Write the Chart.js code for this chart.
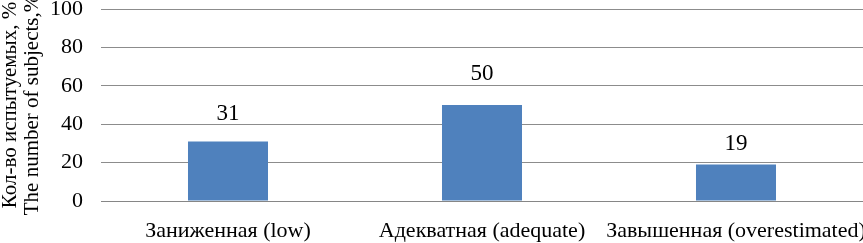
<!DOCTYPE html>
<html><head><meta charset="utf-8">
<script src="https://cdn.jsdelivr.net/npm/chart.js@4/dist/chart.umd.min.js"></script>
<style>html,body{margin:0;padding:0;background:#fff}#w{width:863px;height:243px}</style>
</head><body><div id="w"><canvas id="c"></canvas></div>
<script>
const categories = ["Заниженная (low)", "Адекватная (adequate)", "Завышенная (overestimated)"];
const values = [31, 50, 19];
const yTitle = ["Кол-во испытуемых, %", "The number of subjects,%"];
const yMin = 0, yMax = 100, yStep = 20;

const FONT = "'Liberation Serif','Times New Roman',serif";
const labelPlugin = {
  id: 'vals',
  afterDatasetsDraw(chart, args, opts) {
    const ctx = chart.ctx;
    const meta = chart.getDatasetMeta(0);
    const gaps = opts.gaps || [];
    ctx.save();
    ctx.font = "23px " + FONT;
    ctx.fillStyle = "#000";
    ctx.textAlign = "center";
    ctx.textBaseline = "alphabetic";
    meta.data.forEach((el, i) => {
      ctx.fillText(String(values[i]), el.x, el.y - (gaps[i] ?? 20));
    });
    ctx.restore();
  }
};

new Chart(document.getElementById('c'), {
  type: 'bar',
  data: { labels: categories, datasets: [{ data: values, backgroundColor: '#4F81BD', categoryPercentage: 1, barPercentage: 0.315 }] },
  options: {
    responsive: true, maintainAspectRatio: false, animation: false,
    layout: { padding: { top: 9, right: 0, left: 0, bottom: 0 } },
    plugins: { legend: { display: false }, tooltip: { enabled: false }, vals: { gaps: [21, 25, 15] } },
    scales: {
      x: {
        grid: { display: false, drawTicks: false },
        border: { display: true, color: '#868686', width: 1 },
        ticks: { color: '#000', font: { family: FONT, size: 22 }, padding: 17, maxRotation: 0, autoSkip: false },
        afterFit(s) { s.height = 42; s.paddingLeft = 0; s.paddingRight = 0; }
      },
      y: {
        min: yMin, max: yMax,
        grid: { color: '#8c8c8c', drawTicks: false },
        border: { display: false },
        ticks: { stepSize: yStep, color: '#000', font: { family: FONT, size: 22 }, padding: 18 },
        title: { display: true, text: yTitle, color: '#000', font: { family: FONT, size: 21, lineHeight: 1.02 }, padding: 0 },
        afterFit(s) { s.width = 101; s.paddingTop = 0; s.paddingBottom = 0; }
      }
    }
  },
  plugins: [labelPlugin]
});
</script></body></html>
